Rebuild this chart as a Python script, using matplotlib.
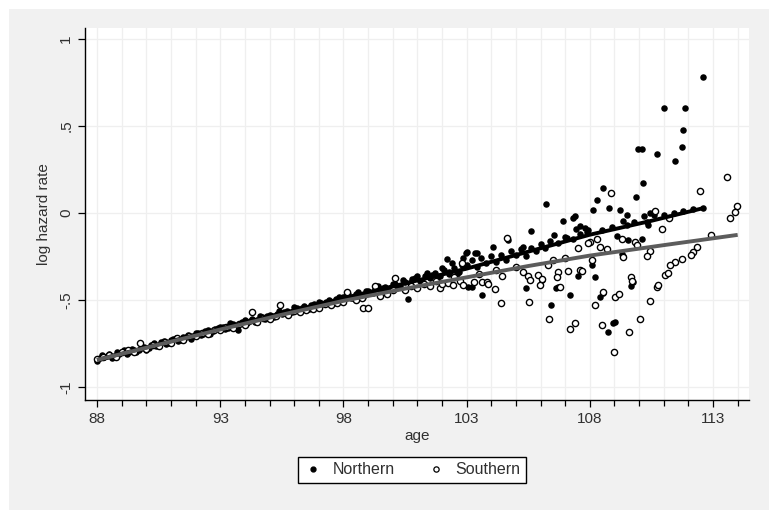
import matplotlib
matplotlib.use("Agg")
import matplotlib.pyplot as plt
from matplotlib.patches import Rectangle
from matplotlib.lines import Line2D
from matplotlib.ticker import MultipleLocator, FixedLocator

plt.rcParams['font.family'] = ['Liberation Sans', 'DejaVu Sans']

# ---------------- data ----------------
north_age = [
    88.0, 88.2, 88.4, 88.6, 88.8, 89.0, 89.2, 89.4, 89.6, 89.8,
    90.0, 90.2, 90.4, 90.6, 90.8, 91.0, 91.2, 91.4, 91.6, 91.8,
    92.0, 92.2, 92.4, 92.6, 92.8, 93.0, 93.2, 93.4, 93.6, 93.72,
    94.0, 94.2, 94.4, 94.6, 94.8, 95.0, 95.2, 95.4, 95.6, 95.8,
    96.0, 96.2, 96.4, 96.6, 96.8, 97.0, 97.2, 97.4, 97.6, 97.8,
    98.0, 98.2, 98.4, 98.6, 98.8, 99.0, 99.2, 99.4, 99.6, 99.8,
    100.0, 100.2, 100.4, 100.62, 100.8, 101.0, 101.2, 101.4, 101.6, 101.8,
    102.0, 102.2, 102.3, 102.4, 102.6, 102.8, 102.85, 102.98, 103.42,
    88.1, 88.3, 88.5, 88.7, 88.9, 89.1, 89.3, 89.5, 89.7, 89.9,
    90.1, 90.3, 90.5, 90.7, 90.9, 91.1, 91.3, 91.5, 91.7, 91.9,
    92.1, 92.3, 92.5, 92.7, 92.9, 93.1, 93.3, 93.5, 93.7, 93.9,
    94.1, 94.3, 94.5, 94.7, 94.9, 95.1, 95.3, 95.5, 95.7, 95.9,
    96.1, 96.3, 96.5, 96.7, 96.9, 97.1, 97.3, 97.5, 97.7, 97.9,
    98.1, 98.3, 98.5, 98.7, 98.9, 99.1, 99.3, 99.5, 99.7, 99.9,
    100.1, 100.3, 100.5, 100.7, 100.9, 101.1, 101.3, 101.5, 101.7, 101.9,
    102.1, 102.3, 102.5, 102.7, 102.9,
    103.0, 103.2, 103.4, 103.6, 103.8, 104.0, 104.2, 104.4, 104.6, 104.8,
    105.0, 105.2, 105.4, 105.6, 105.8, 106.0, 106.2, 106.4, 106.7, 107.0,
    107.3, 107.6, 107.9, 108.5, 108.9, 109.5, 109.8, 110.2, 110.6, 111.0,
    111.4, 111.8, 112.2, 112.6,
    112.59, 111.01, 111.86, 111.78, 111.74, 111.46, 109.95, 110.1, 110.73, 110.16,
    109.88, 108.54, 108.29, 108.13, 108.78, 109.23, 109.51, 109.35, 110.45, 110.37,
    110.33, 107.6, 107.8, 107.93, 109.1, 109.55, 110.12, 109.35, 109.31, 108.09,
    108.21, 109.75, 109.67, 108.54, 108.41, 109.02, 108.94, 108.74,
    106.22, 105.61, 106.91, 107.32, 107.4, 106.55, 107.44, 104.07, 103.02, 103.34,
    104.68, 105.29, 107.07, 105.41, 103.63, 106.63, 106.71, 106.43, 107.2, 107.52,
    106.06, 103.06, 103.22,
]
north_val = [
    -0.850, -0.818, -0.821, -0.833, -0.801, -0.799, -0.810, -0.783, -0.797, -0.775,
    -0.785, -0.758, -0.765, -0.741, -0.756, -0.731, -0.716, -0.731, -0.712, -0.722,
    -0.689, -0.700, -0.677, -0.694, -0.667, -0.653, -0.668, -0.635, -0.648, -0.672,
    -0.618, -0.619, -0.626, -0.595, -0.608, -0.585, -0.600, -0.566, -0.570, -0.577,
    -0.542, -0.558, -0.534, -0.553, -0.524, -0.509, -0.526, -0.501, -0.520, -0.485,
    -0.485, -0.465, -0.486, -0.455, -0.482, -0.446, -0.461, -0.422, -0.429, -0.443,
    -0.406, -0.425, -0.386, -0.494, -0.382, -0.363, -0.389, -0.344, -0.355, -0.380,
    -0.319, -0.264, -0.337, -0.290, -0.348, -0.298, -0.258, -0.230, -0.230,
    -0.832, -0.828, -0.812, -0.822, -0.808, -0.790, -0.800, -0.785, -0.790, -0.768,
    -0.775, -0.750, -0.760, -0.738, -0.745, -0.725, -0.735, -0.712, -0.700, -0.710,
    -0.690, -0.697, -0.675, -0.680, -0.660, -0.655, -0.660, -0.640, -0.645, -0.625,
    -0.632, -0.610, -0.618, -0.598, -0.592, -0.595, -0.578, -0.582, -0.562, -0.570,
    -0.548, -0.545, -0.550, -0.528, -0.535, -0.515, -0.510, -0.515, -0.492, -0.500,
    -0.478, -0.488, -0.468, -0.472, -0.450, -0.458, -0.438, -0.445, -0.425, -0.432,
    -0.410, -0.418, -0.395, -0.405, -0.375, -0.390, -0.365, -0.375, -0.345, -0.365,
    -0.330, -0.350, -0.315, -0.340, -0.310,
    -0.300, -0.270, -0.310, -0.260, -0.290, -0.250, -0.280, -0.240, -0.270, -0.220,
    -0.240, -0.210, -0.250, -0.200, -0.220, -0.180, -0.200, -0.160, -0.170, -0.140,
    -0.150, -0.120, -0.110, -0.100, -0.080, -0.070, -0.050, -0.020, -0.010, -0.010,
    0.000, 0.010, 0.020, 0.030,
    0.780, 0.603, 0.603, 0.477, 0.380, 0.300, 0.370, 0.370, 0.340, 0.172,
    0.092, 0.144, 0.075, 0.017, 0.029, 0.017, -0.011, -0.046, 0.000, -0.070,
    -0.050, -0.075, -0.086, -0.098, -0.132, -0.155, -0.149, -0.247, -0.236, -0.300,
    -0.368, -0.397, -0.420, -0.460, -0.483, -0.626, -0.632, -0.684,
    0.052, -0.103, -0.046, -0.030, -0.017, -0.126, -0.092, -0.195, -0.224, -0.230,
    -0.155, -0.195, -0.144, -0.430, -0.470, -0.430, -0.425, -0.530, -0.470, -0.360,
    -0.385, -0.425, -0.425,
]

south_age = [
    88.0, 88.25, 88.5, 88.75, 89.0, 89.25, 89.5, 89.75, 90.0, 90.25,
    90.5, 90.75, 91.0, 91.25, 91.5, 91.75, 92.0, 92.25, 92.5, 92.75,
    93.0, 93.25, 93.5, 93.75, 94.0, 94.29, 94.5, 94.75, 95.0, 95.25,
    95.43, 95.75, 96.0, 96.25, 96.5, 96.75, 97.0, 97.25, 97.5, 97.75,
    98.0, 98.15, 98.5, 98.75, 98.8, 99.0, 99.28, 99.5, 99.75, 100.0,
    100.09, 100.5, 100.75, 101.0, 101.25, 101.5, 101.75, 101.9, 102.0, 102.25,
    102.45, 102.5, 102.75, 102.81,
    103.5, 104.2, 105.0, 105.3, 106.5, 107.0,
    113.97, 113.89, 113.69, 113.57, 112.47, 112.92, 112.35, 112.19, 112.11, 111.74,
    110.93, 111.21,
    108.86, 110.65, 108.0, 108.29, 108.41, 108.7, 109.31, 109.84, 109.92, 110.45,
    110.33, 108.09, 107.6, 109.35, 111.46, 111.26, 111.06, 111.18, 110.73, 110.77,
    109.67, 109.71, 108.21, 108.54, 109.02, 109.19, 110.45, 108.5, 110.04, 109.59,
    108.98,
    104.64, 107.52, 107.11, 107.68, 106.3, 106.71, 106.67, 105.49, 105.57, 105.9,
    105.98, 106.06, 104.44, 104.15, 103.63, 103.83, 103.87, 103.3, 102.85, 104.4,
    105.53, 106.34, 107.4, 107.2, 106.79, 107.93,
]
south_val = [
    -0.840, -0.830, -0.815, -0.826, -0.800, -0.790, -0.800, -0.747, -0.780, -0.760,
    -0.765, -0.740, -0.745, -0.720, -0.730, -0.710, -0.710, -0.690, -0.695, -0.670,
    -0.675, -0.655, -0.660, -0.640, -0.645, -0.570, -0.625, -0.605, -0.610, -0.590,
    -0.530, -0.585, -0.565, -0.570, -0.560, -0.550, -0.545, -0.525, -0.530, -0.515,
    -0.510, -0.454, -0.500, -0.490, -0.546, -0.545, -0.420, -0.475, -0.465, -0.445,
    -0.374, -0.440, -0.420, -0.430, -0.410, -0.420, -0.390, -0.430, -0.410, -0.400,
    -0.414, -0.370, -0.390, -0.287,
    -0.350, -0.330, -0.310, -0.340, -0.270, -0.260,
    0.040, 0.006, -0.030, 0.207, 0.126, -0.126, -0.195, -0.224, -0.241, -0.264,
    -0.090, -0.030,
    0.115, 0.011, -0.167, -0.150, -0.195, -0.207, -0.150, -0.167, -0.184, -0.218,
    -0.247, -0.270, -0.330, -0.253, -0.280, -0.300, -0.356, -0.345, -0.425, -0.414,
    -0.368, -0.390, -0.530, -0.454, -0.483, -0.466, -0.506, -0.644, -0.609, -0.684,
    -0.800,
    -0.144, -0.200, -0.333, -0.333, -0.300, -0.340, -0.368, -0.362, -0.385, -0.356,
    -0.414, -0.380, -0.362, -0.437, -0.397, -0.397, -0.408, -0.397, -0.414, -0.517,
    -0.510, -0.610, -0.632, -0.667, -0.425, -0.172,
]

# fitted lines
north_fit_age = [88.0, 93.0, 98.0, 103.0, 108.0, 110.5, 112.67]
north_fit_val = [-0.845, -0.665, -0.490, -0.320, -0.125, -0.045, 0.030]
south_fit_age = [88.0, 90.5, 93.0, 95.5, 98.0, 100.5, 103.0, 105.5, 108.0, 111.0, 114.0]
south_fit_val = [-0.845, -0.757, -0.670, -0.585, -0.505, -0.435, -0.370, -0.305, -0.245, -0.185, -0.126]

x_major = [88, 93, 98, 103, 108, 113]
y_major = [-1, -0.5, 0, 0.5, 1]
y_labels = ['-1', '-.5', '0', '.5', '1']

# ---------------- figure ----------------
W, H = 779, 520
fig = plt.figure(figsize=(W / 100, H / 100), dpi=100, facecolor='white')
fig.patches.append(Rectangle((9 / W, 1 - 510 / H), 760 / W, 501 / H,
                             transform=fig.transFigure, facecolor='#f1f1f1',
                             edgecolor='none', zorder=-10))

ax = fig.add_axes([85 / W, 1 - 400 / H, (749 - 85) / W, (400 - 28) / H])
ax.set_zorder(1)
ax.set_facecolor('white')

ax.set_xlim(87.51, 114.46)
ax.set_ylim(-1.075, 1.063)

ax.xaxis.set_major_locator(FixedLocator(x_major))
ax.xaxis.set_minor_locator(MultipleLocator(1))
ax.yaxis.set_major_locator(FixedLocator(y_major))
ax.set_yticklabels(y_labels)

ax.grid(True, which='both', axis='x', color='#efefef', linewidth=0.9, zorder=0)
ax.grid(True, which='major', axis='y', color='#efefef', linewidth=0.9, zorder=0)
ax.set_axisbelow(True)

for s in ['top', 'right']:
    ax.spines[s].set_visible(False)
for s in ['left', 'bottom']:
    ax.spines[s].set_color('black')
    ax.spines[s].set_linewidth(1.0)

ax.tick_params(axis='both', which='major', direction='out', length=5, width=0.9,
               colors='black', labelcolor='#303030', labelsize=11)
ax.tick_params(axis='x', which='minor', direction='out', length=4, width=0.9, colors='black')
for lab in ax.get_yticklabels():
    lab.set_rotation(90)
    lab.set_va('center')

ax.scatter(north_age, north_val, s=22, c='black', marker='o', linewidths=0, zorder=3)
ax.scatter(south_age, south_val, s=20, facecolors='white', edgecolors='black',
           marker='o', linewidths=1.0, zorder=3)

ax.plot(north_fit_age, north_fit_val, color='black', linewidth=2.8,
        solid_capstyle='butt', zorder=4)
ax.plot(south_fit_age, south_fit_val, color='#5c5c5c', linewidth=2.8,
        solid_capstyle='butt', zorder=5)

ax.set_xlabel('age', fontsize=11, color='#303030', labelpad=2)
ax.set_ylabel('log hazard rate', fontsize=11, color='#303030', labelpad=6)

handles = [
    Line2D([], [], linestyle='none', marker='o', markersize=3.5,
           markerfacecolor='black', markeredgecolor='black'),
    Line2D([], [], linestyle='none', marker='o', markersize=3.8,
           markerfacecolor='white', markeredgecolor='black', markeredgewidth=0.9),
]
leg = fig.legend(handles, ['Northern', 'Southern'], loc='center',
                 bbox_to_anchor=(412 / W, 1 - 470 / H), ncol=2, frameon=True,
                 fancybox=False, edgecolor='black', facecolor='white',
                 framealpha=1, fontsize=11.5, handlelength=1.2, handletextpad=0.6,
                 columnspacing=2.0, borderpad=0.35)
leg.get_frame().set_linewidth(1.0)
for t in leg.get_texts():
    t.set_color('#303030')

fig.savefig('out.png', dpi=100, facecolor=fig.get_facecolor())
